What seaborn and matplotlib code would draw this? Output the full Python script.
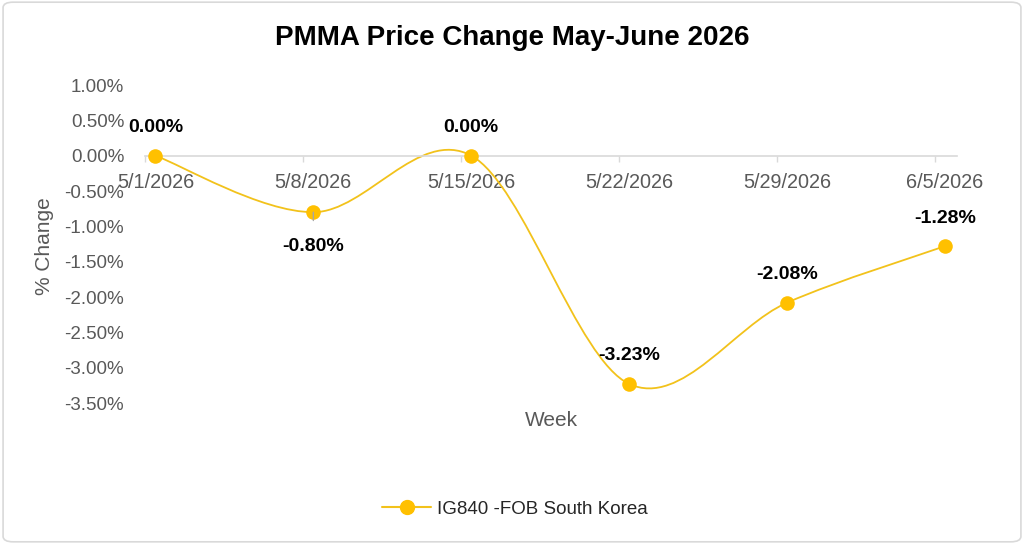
import numpy as np
import matplotlib
matplotlib.use("Agg")
import matplotlib.pyplot as plt
import seaborn as sns
import pandas as pd
from matplotlib.path import Path
from matplotlib.patches import PathPatch, FancyBboxPatch
from matplotlib.lines import Line2D

# ---- data ----
weeks = ["5/1/2026", "5/8/2026", "5/15/2026", "5/22/2026", "5/29/2026", "6/5/2026"]
pct_change = [0.00, -0.80, 0.00, -3.23, -2.08, -1.28]
label_above = [True, False, True, True, True, True]
series_name = "IG840 -FOB South Korea"
y_ticks = [1.0, 0.5, 0.0, -0.5, -1.0, -1.5, -2.0, -2.5, -3.0, -3.5]

sns.set_theme(style="white")
plt.rcParams['font.family'] = ['Liberation Sans', 'DejaVu Sans']

GOLD = "#FFC000"
LINE = "#F2C21B"
GRAY = "#595959"

fig = plt.figure(figsize=(10.24, 5.44), dpi=100)
ax = fig.add_axes([145/1024, 1-403/544, (957-145)/1024, (403-85)/544])

df = pd.DataFrame({"x": np.arange(len(weeks)), "y": pct_change})

# smoothed line (Excel-like Catmull-Rom Bezier)
xs = df["x"].to_numpy(float); ys = df["y"].to_numpy(float)
n = len(xs)
verts = [(xs[0], ys[0])]; codes = [Path.MOVETO]
for i in range(n - 1):
    p0 = (xs[max(i-1, 0)], ys[max(i-1, 0)])
    p1 = (xs[i], ys[i]); p2 = (xs[i+1], ys[i+1])
    p3 = (xs[min(i+2, n-1)], ys[min(i+2, n-1)])
    c1 = (p1[0] + (p2[0]-p0[0])/6, p1[1] + (p2[1]-p0[1])/6)
    c2 = (p2[0] - (p3[0]-p1[0])/6, p2[1] - (p3[1]-p1[1])/6)
    verts += [c1, c2, p2]; codes += [Path.CURVE4]*3
ax.add_patch(PathPatch(Path(verts, codes), facecolor="none", edgecolor=LINE, lw=1.3, zorder=2))

sns.scatterplot(data=df, x="x", y="y", ax=ax, s=110, color=GOLD, edgecolor=GOLD,
                linewidth=0, zorder=3, legend=False)

# data labels
for xi, yi, up in zip(xs, ys, label_above):
    txt = f"{yi:.2f}%"
    if up:
        ax.annotate(txt, (xi, yi), xytext=(0, 28), textcoords="offset pixels",
                    ha="center", va="center", fontsize=14, fontweight="bold", color="black")
    else:
        ax.annotate(txt, (xi, yi), xytext=(0, -34), textcoords="offset pixels",
                    ha="center", va="center", fontsize=14, fontweight="bold", color="black",
                    arrowprops=dict(arrowstyle="-", color="#A6A6A6", lw=1,
                                    shrinkA=10, shrinkB=7))

off = 0.066
ax.set_xlim(-off, 5.076)
ax.set_ylim(-3.5, 1.0)
# labels centred on the data points, tick marks slightly to the left (date axis)
ax.set_xticks(np.arange(len(weeks)))
ax.set_xticklabels(weeks)
ax.set_xticks(np.arange(len(weeks)) - off, minor=True)
ax.set_yticks(y_ticks)
ax.set_yticklabels([f"{v:.2f}%" for v in y_ticks])
ax.set_xlabel(""); ax.set_ylabel("")
ax.grid(False)
for s in ["left", "top", "right"]:
    ax.spines[s].set_visible(False)
ax.spines["bottom"].set_position(("data", 0))
ax.spines["bottom"].set_color("#D9D9D9")
ax.spines["bottom"].set_linewidth(1.2)
ax.tick_params(axis="x", which="major", length=4, width=0, color="#D9D9D9",
               labelsize=14.3, labelcolor=GRAY, pad=8.5, bottom=True)
ax.tick_params(axis="x", which="minor", direction="out", length=4, width=1,
               color="#D9D9D9", bottom=True)
ax.tick_params(axis="y", which="both", length=0, labelsize=13.5, labelcolor=GRAY, pad=15)
ax.patch.set_alpha(0)

fig.text(512/1024, 1-38/544, "PMMA Price Change May-June 2026", ha="center", va="center",
         fontsize=20, fontweight="bold", color="black")
fig.text(44/1024, 1-246/544, "% Change", rotation=90, ha="center", va="center",
         fontsize=15, color=GRAY)
fig.text(551/1024, 1-421/544, "Week", ha="center", va="center", fontsize=15, color=GRAY)

handle = Line2D([0], [0], color=LINE, lw=1.5, marker="o", markersize=10,
                markerfacecolor=GOLD, markeredgecolor=GOLD)
fig.legend([handle], [series_name], loc="center", bbox_to_anchor=(515/1024, 1-509/544),
           frameon=False, fontsize=13.5, handlelength=2.6, handletextpad=0.3,
           labelcolor="#262626")

fig.patches.append(FancyBboxPatch((0.003, 0.004), 0.994, 0.992,
                                  boxstyle="round,pad=0,rounding_size=0.01",
                                  transform=fig.transFigure, facecolor="none",
                                  edgecolor="#D9D9D9", lw=1.2))

fig.savefig("out.png", dpi=100)
